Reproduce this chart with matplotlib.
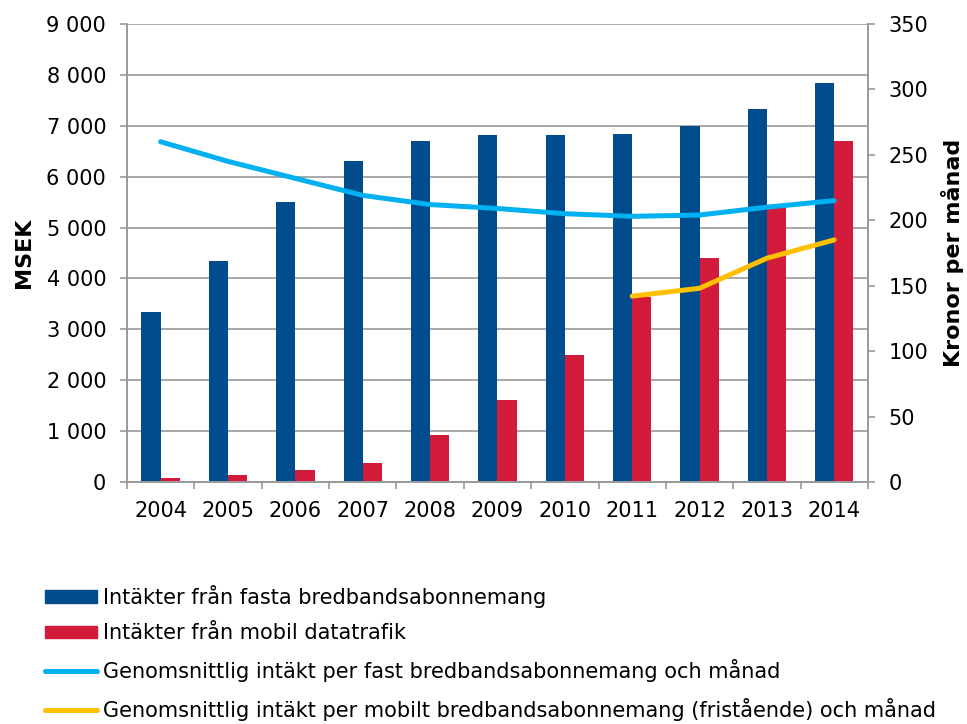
import numpy as np
import matplotlib.pyplot as plt
from matplotlib.patches import Patch
from matplotlib.lines import Line2D
from matplotlib.ticker import FuncFormatter

# --- Data ---
years = ['2004', '2005', '2006', '2007', '2008', '2009', '2010', '2011', '2012', '2013', '2014']
fast_intakt = [3340, 4340, 5500, 6300, 6700, 6820, 6810, 6840, 6990, 7320, 7840]
mobil_intakt = [70, 130, 230, 380, 930, 1610, 2500, 3640, 4400, 5400, 6710]
snitt_fast = [260, 245, 232, 219, 212, 209, 205, 203, 204, 210, 215]
snitt_mobil_years = ['2011', '2012', '2013', '2014']
snitt_mobil = [142, 148, 171, 185]

c_blue = '#004C8C'
c_red = '#D21A3B'
c_lblue = '#00B0F0'
c_yellow = '#FFC000'
c_grid = '#9a9a9a'

x = np.arange(len(years))
xm = np.array([years.index(y) for y in snitt_mobil_years])
w = 0.285
fs = 15

fig = plt.figure(figsize=(9.67, 7.24), dpi=100)
ax = fig.add_axes([0.1313, 0.3343, 0.7663, 0.6326])

ax.bar(x - w/2, fast_intakt, w, color=c_blue, zorder=2)
ax.bar(x + w/2, mobil_intakt, w, color=c_red, zorder=2)

ax.set_xlim(-0.5, len(years) - 0.5)
ax.set_ylim(0, 9000)
ax.set_yticks(np.arange(0, 9001, 1000))
ax.yaxis.set_major_formatter(FuncFormatter(lambda v, p: f'{int(v):,}'.replace(',', ' ')))
ax.set_xticks(x)
ax.set_xticklabels(years)
ax.set_xticks(np.arange(-0.5, len(years), 1), minor=True)
ax.tick_params(axis='x', which='major', length=0, pad=14)
ax.tick_params(axis='x', which='minor', length=5, color=c_grid, width=1.2)
ax.tick_params(axis='y', length=5, color=c_grid, width=1.2, pad=10)
ax.tick_params(labelsize=fs)
ax.grid(axis='y', color=c_grid, lw=1.2, zorder=0)
ax.set_axisbelow(True)
ax.spines['top'].set_visible(False)
for s in ['left', 'bottom', 'right']:
    ax.spines[s].set_color(c_grid)
    ax.spines[s].set_linewidth(1.2)
ax.set_ylabel('MSEK', fontsize=16, fontweight='bold', labelpad=9)

ax2 = ax.twinx()
ax2.plot(x, snitt_fast, color=c_lblue, lw=3.6, solid_capstyle='round', zorder=3)
ax2.plot(xm, snitt_mobil, color=c_yellow, lw=3.6, solid_capstyle='round', zorder=3)
ax2.set_ylim(0, 350)
ax2.set_yticks(np.arange(0, 351, 50))
ax2.tick_params(axis='y', length=5, color=c_grid, width=1.2, labelsize=fs, pad=10)
ax2.spines['top'].set_visible(False)
for s in ['left', 'bottom', 'right']:
    ax2.spines[s].set_color(c_grid)
    ax2.spines[s].set_linewidth(1.2)
ax2.set_ylabel('Kronor per månad', fontsize=16, fontweight='bold', labelpad=9)

handles = [
    Patch(color=c_blue),
    Patch(color=c_red),
    Line2D([], [], color=c_lblue, lw=3.6, solid_capstyle='round'),
    Line2D([], [], color=c_yellow, lw=3.6, solid_capstyle='round'),
]
labels = [
    'Intäkter från fasta bredbandsabonnemang',
    'Intäkter från mobil datatrafik',
    'Genomsnittlig intäkt per fast bredbandsabonnemang och månad',
    'Genomsnittlig intäkt per mobilt bredbandsabonnemang (fristående) och månad',
]
fig.legend(handles, labels, loc='upper left', bbox_to_anchor=(0.038, 0.204),
           frameon=False, fontsize=fs, handlelength=2.5, handleheight=0.55,
           handletextpad=0.3, labelspacing=0.75, borderaxespad=0)

fig.savefig('out.png', dpi=100)
